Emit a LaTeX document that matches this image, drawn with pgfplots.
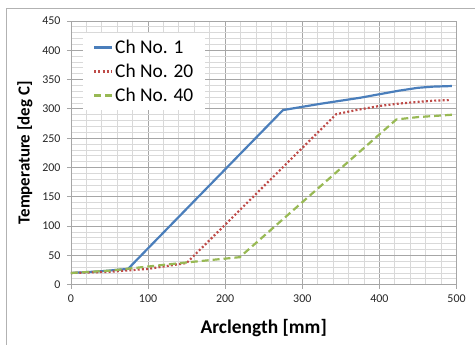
\documentclass[border=0pt]{standalone}
\usepackage{fontspec}
\setmainfont{Carlito}
\usepackage{pgfplots}
\pgfplotsset{compat=1.18}
\definecolor{cblue}{HTML}{4A7EBB}
\definecolor{cred}{HTML}{BE4B48}
\definecolor{cgreen}{HTML}{98B954}
\definecolor{gmajor}{HTML}{A6A6A6}
\definecolor{gminor}{HTML}{D9D9D9}
\begin{document}
\begin{tikzpicture}[x=1bp,y=1bp]
\path (0,0) rectangle (475,345);
\draw[gray!60, line width=1bp] (7,0) -- (7,336) -- (475,336);
\begin{axis}[
  at={(71bp,60bp)}, anchor=south west,
  scale only axis, width=386bp, height=264bp,
  xmin=0, xmax=500, ymin=0, ymax=450,
  xtick={0,100,...,500}, ytick={0,50,...,450},
  minor x tick num=4, minor y tick num=4,
  grid=both,
  major grid style={gmajor, line width=0.8pt},
  minor grid style={gminor, line width=0.8pt},
  axis line style={gmajor, line width=0.8pt},
  tick style={gmajor, line width=0.8pt},
  tick align=outside,
  major tick length=4bp, minor tick length=0pt,
  xtick pos=bottom, ytick pos=left,
  ticklabel style={font=\fontsize{12}{13}\selectfont, text=black!85},
  xticklabel style={yshift=-3bp},
  yticklabel style={xshift=-3bp},
  /pgf/number format/assume math mode=true,
  xlabel={\textbf{Arclength [mm]}},
  ylabel={\textbf{Temperature [deg C]}},
  xlabel style={font=\fontsize{19.5}{21}\selectfont, yshift=-9bp},
  ylabel style={font=\fontsize{17}{19}\selectfont, yshift=3bp},
  legend style={at={(0.031,0.955)}, anchor=north west, draw=none, fill=white,
    font=\fontsize{19.5}{21}\selectfont, row sep=5bp, inner xsep=10bp, inner ysep=5bp},
  legend cell align=left,
  legend image code/.code={\draw[#1] (0bp,0bp) -- (18bp,0bp);},
]
\addplot[cblue, line width=2.2pt] coordinates {
(0,20) (40,23) (74,27) (275,298) (325,309) (375,319) (400,325) (425,331) (450,336) (470,338) (494,339)};
\addlegendentry{Ch No. 1}
\addplot[cred, line width=2.2pt, dash pattern=on 2pt off 2.2pt] coordinates {
(0,20) (50,22) (100,27) (150,37) (344,291) (370,298) (400,305) (425,309) (450,312) (470,314) (490,315)};
\addlegendentry{Ch No. 20}
\addplot[cgreen, line width=2.2pt, dash pattern=on 7pt off 4pt] coordinates {
(0,20) (50,24) (100,31) (150,38) (219,47) (422,282) (450,286) (494,290)};
\addlegendentry{Ch No. 40}
\end{axis}
\end{tikzpicture}
\end{document}
